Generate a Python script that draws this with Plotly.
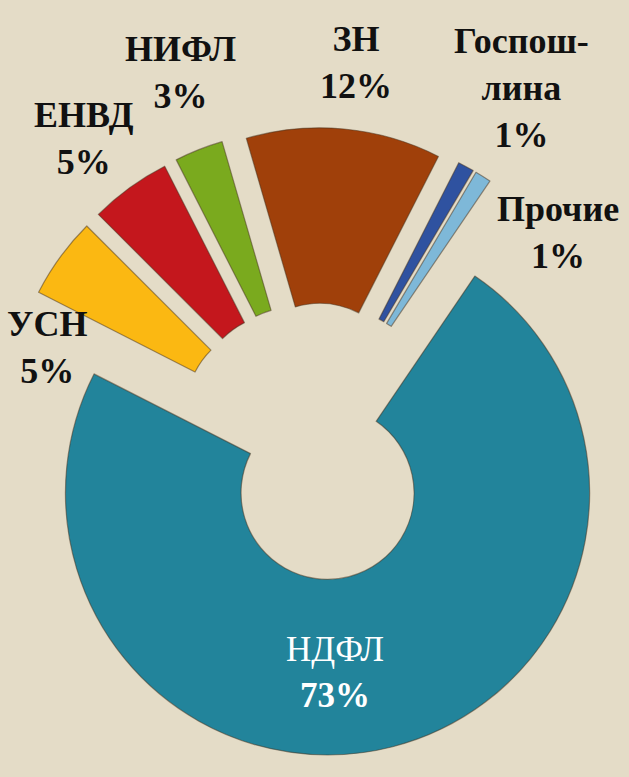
import plotly.graph_objects as go

labels = ["УСН", "ЕНВД", "НИФЛ", "ЗН", "Госпошлина", "Прочие", "НДФЛ"]
label_text = ["УСН", "ЕНВД", "НИФЛ", "ЗН", "Госпош-<br>лина", "Прочие", "НДФЛ"]
values = [5, 5, 3, 12, 1, 1, 73]
pct_text = ["5%", "5%", "3%", "12%", "1%", "1%", "73%"]

colors = ["#FBB812", "#C4171D", "#7AAA1E", "#A0400A", "#2F52A0", "#7EB8D8", "#22849B"]
# label placement relative to pie centre, in units of pie radius (x right, y up)
label_offsets = [(-1.02, 0.36), (-0.88, 1.16), (-0.51, 1.41), (0.16, 1.45),
                 (0.79, 1.35), (0.93, 0.80), (0.08, -0.88)]

W, H = 629, 777
PULL = 0.2
HOLE = 0.33
dom_x = [0.0, 1.0]
dom_y = [0.026, 0.836]

fig = go.Figure(go.Pie(
    labels=labels,
    values=values,
    textinfo="none",
    sort=False,
    direction="clockwise",
    rotation=-63,
    hole=HOLE,
    pull=[PULL] * len(values),
    marker=dict(colors=colors, line=dict(color="rgba(70,50,30,0.5)", width=1.2)),
    domain=dict(x=dom_x, y=dom_y),
    showlegend=False,
    hoverinfo="label+percent",
))

# pie geometry as plotly computes it
cx = W * (dom_x[0] + dom_x[1]) / 2
cy = H * (1 - (dom_y[0] + dom_y[1]) / 2)
r = min(W * (dom_x[1] - dom_x[0]), H * (dom_y[1] - dom_y[0])) / (2 + 2 * PULL)

annotations = []
for i, (lab, p) in enumerate(zip(label_text, pct_text)):
    ox, oy = label_offsets[i]
    px = cx + ox * r
    py = cy - oy * r
    if labels[i] == "НДФЛ":
        txt = f"{lab}<br><b>{p}</b>"
        col = "#FFFFFF"
        size = 35
    else:
        txt = f"<b>{lab}<br>{p}</b>"
        col = "#111111"
        size = 36
    annotations.append(dict(
        x=px / W, y=1 - py / H, xref="paper", yref="paper",
        text=txt, showarrow=False, align="center",
        xanchor="center", yanchor="middle",
        font=dict(family="Liberation Serif", size=size, color=col),
    ))

fig.update_layout(
    width=W,
    height=H,
    margin=dict(l=0, r=0, t=0, b=0),
    paper_bgcolor="#E4DCC7",
    plot_bgcolor="#E4DCC7",
    showlegend=False,
    annotations=annotations,
)

fig.write_html(
    "out.html",
    config={"displayModeBar": False},
    post_script="document.body.style.margin='0';document.body.style.overflow='hidden';",
)
